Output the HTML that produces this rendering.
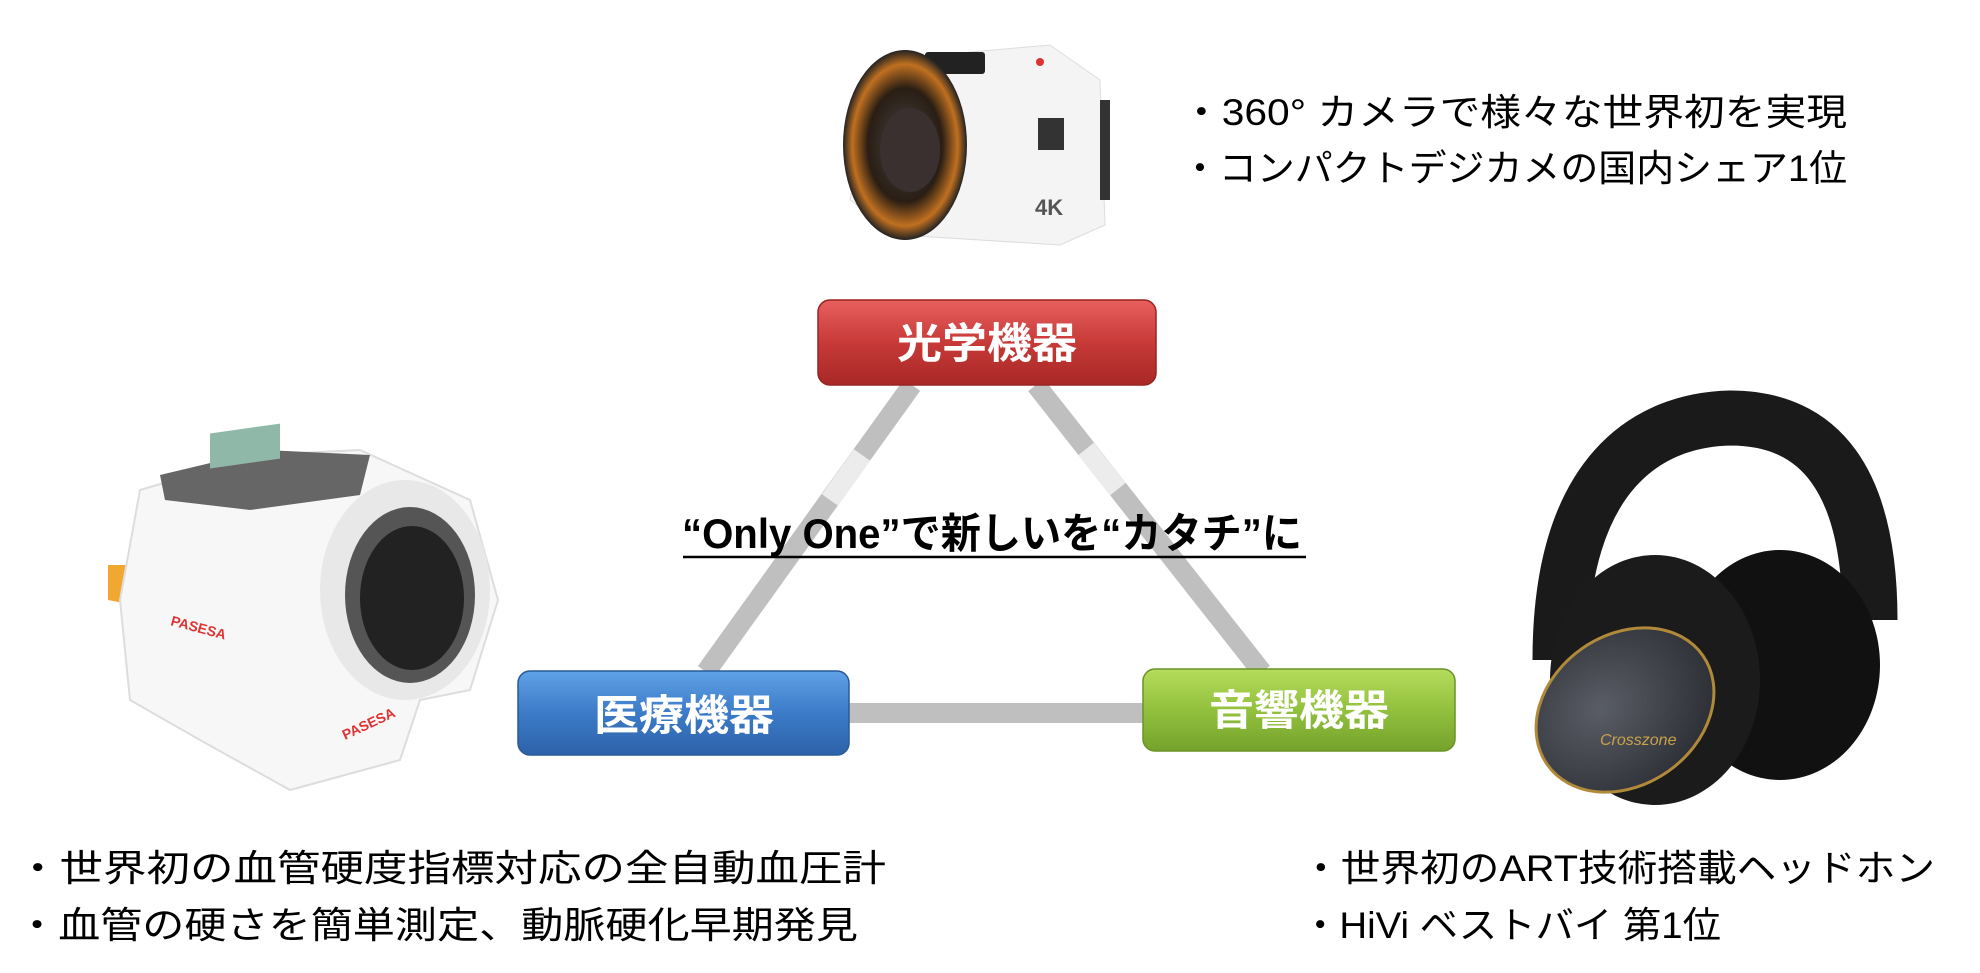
<!DOCTYPE html>
<html><head><meta charset="utf-8"><style>
html,body{margin:0;padding:0;background:#fff;}
svg{display:block}
text{font-family:"Liberation Sans","Noto Sans CJK JP",sans-serif;}
</style></head><body>
<svg width="1980" height="973" viewBox="0 0 1980 973" xmlns="http://www.w3.org/2000/svg">
<defs>
<linearGradient id="gr" x1="0" y1="0" x2="0" y2="1"><stop offset="0" stop-color="#e8605e"/><stop offset="0.5" stop-color="#c73a38"/><stop offset="1" stop-color="#a82826"/></linearGradient>
<linearGradient id="gb" x1="0" y1="0" x2="0" y2="1"><stop offset="0" stop-color="#5fa2e6"/><stop offset="0.5" stop-color="#3c7bc8"/><stop offset="1" stop-color="#2c62a8"/></linearGradient>
<linearGradient id="gg" x1="0" y1="0" x2="0" y2="1"><stop offset="0" stop-color="#b5dc5c"/><stop offset="0.5" stop-color="#92c13e"/><stop offset="1" stop-color="#74a22c"/></linearGradient>
<radialGradient id="lens" cx="0.5" cy="0.5" r="0.5"><stop offset="0" stop-color="#444"/><stop offset="0.6" stop-color="#2a1e14"/><stop offset="0.85" stop-color="#c07020"/><stop offset="1" stop-color="#222"/></radialGradient>
<radialGradient id="cup" cx="0.4" cy="0.4" r="0.7"><stop offset="0" stop-color="#5a5d66"/><stop offset="1" stop-color="#2a2c32"/></radialGradient>
</defs>

<!-- triangle connectors -->
<g stroke="#bfbfbf" stroke-width="20" fill="none">
<line x1="912" y1="385" x2="706" y2="672"/>
<line x1="1036" y1="385" x2="1262" y2="672"/>
<line x1="849" y1="713" x2="1143" y2="713"/>
</g>
<g stroke="#ececec" stroke-width="20">
<line x1="862" y1="455" x2="830" y2="500"/>
<line x1="1086" y1="449" x2="1118" y2="489"/>
</g>

<!-- boxes -->
<rect x="818" y="300" width="338" height="85" rx="12" fill="url(#gr)" stroke="#9a2422" stroke-width="1.5"/>
<text x="987" y="358" font-size="42" font-weight="bold" fill="#fff" text-anchor="middle" textLength="180" lengthAdjust="spacingAndGlyphs">光学機器</text>
<rect x="518" y="671" width="331" height="84" rx="12" fill="url(#gb)" stroke="#285a98" stroke-width="1.5"/>
<text x="684" y="730" font-size="42" font-weight="bold" fill="#fff" text-anchor="middle" textLength="180" lengthAdjust="spacingAndGlyphs">医療機器</text>
<rect x="1143" y="669" width="312" height="82" rx="12" fill="url(#gg)" stroke="#6a9426" stroke-width="1.5"/>
<text x="1299" y="725" font-size="42" font-weight="bold" fill="#fff" text-anchor="middle" textLength="180" lengthAdjust="spacingAndGlyphs">音響機器</text>

<!-- headline -->
<text x="992" y="548" font-size="42" font-weight="bold" fill="#000" text-anchor="middle" textLength="620" lengthAdjust="spacingAndGlyphs">“Only One”で新しいを“カタチ”に</text>
<line x1="683" y1="557" x2="1306" y2="557" stroke="#000" stroke-width="2.5"/>

<!-- side texts -->
<g font-size="37" fill="#000">
<text x="1181" y="125" textLength="666" lengthAdjust="spacingAndGlyphs">・360° カメラで様々な世界初を実現</text>
<text x="1181" y="181" textLength="666" lengthAdjust="spacingAndGlyphs">・コンパクトデジカメの国内シェア1位</text>
<text x="16" y="881" textLength="870" lengthAdjust="spacingAndGlyphs">・世界初の血管硬度指標対応の全自動血圧計</text>
<text x="16" y="938" textLength="842" lengthAdjust="spacingAndGlyphs">・血管の硬さを簡単測定、動脈硬化早期発見</text>
<text x="1301" y="881" textLength="634" lengthAdjust="spacingAndGlyphs">・世界初のART技術搭載ヘッドホン</text>
<text x="1301" y="938" textLength="420" lengthAdjust="spacingAndGlyphs">・HiVi ベストバイ 第1位</text>
</g>

<!-- camera -->
<g>
<path d="M880 60 L1050 45 L1100 80 L1105 225 L1060 245 L900 235 L850 200 Z" fill="#f4f4f4" stroke="#ddd"/>
<rect x="925" y="52" width="60" height="22" fill="#222" rx="3"/>
<circle cx="1040" cy="62" r="4" fill="#d33"/>
<ellipse cx="905" cy="145" rx="62" ry="95" fill="url(#lens)"/>
<ellipse cx="910" cy="150" rx="30" ry="42" fill="#3b3030"/>
<rect x="1038" y="118" width="26" height="32" fill="#333"/>
<text x="1035" y="215" font-size="22" font-weight="bold" fill="#555">4K</text>
<rect x="1100" y="100" width="10" height="100" fill="#333"/>
</g>

<!-- BP monitor -->
<g>
<path d="M108 565 L160 565 L160 610 L108 600 Z" fill="#f0a830"/>
<path d="M140 490 L260 455 L360 450 L470 500 L498 600 L470 690 L420 700 L400 760 L290 790 L200 740 L130 700 L120 600 Z" fill="#f7f7f7" stroke="#ddd" stroke-width="2"/>
<path d="M160 475 L265 450 L370 455 L360 495 L250 510 L165 500 Z" fill="#666"/>
<rect x="210" y="463" width="70" height="35" fill="#8fb8a8" transform="skewY(-8)"/>
<ellipse cx="405" cy="590" rx="85" ry="110" fill="#e8e8e8"/>
<ellipse cx="410" cy="595" rx="65" ry="88" fill="#555"/>
<ellipse cx="412" cy="598" rx="52" ry="72" fill="#222"/>
<text x="170" y="625" font-size="14" fill="#d33" font-weight="bold" transform="rotate(15 170 625)">PASESA</text>
<text x="345" y="740" font-size="14" fill="#d33" font-weight="bold" transform="rotate(-25 345 740)">PASESA</text>
</g>

<!-- headphones -->
<g>
<path d="M1560 660 C1560 470 1650 420 1730 418 C1820 418 1870 480 1870 620" fill="none" stroke="#1a1a1a" stroke-width="55"/>
<ellipse cx="1780" cy="665" rx="100" ry="115" fill="#111"/>
<ellipse cx="1655" cy="680" rx="105" ry="125" fill="#1b1b1b"/>
<ellipse cx="1625" cy="710" rx="95" ry="75" fill="url(#cup)" stroke="#b08a3a" stroke-width="3" transform="rotate(-35 1625 710)"/>
<text x="1600" y="745" font-size="16" fill="#c9a24a" font-style="italic">Crosszone</text>
</g>
</svg>
</body></html>
